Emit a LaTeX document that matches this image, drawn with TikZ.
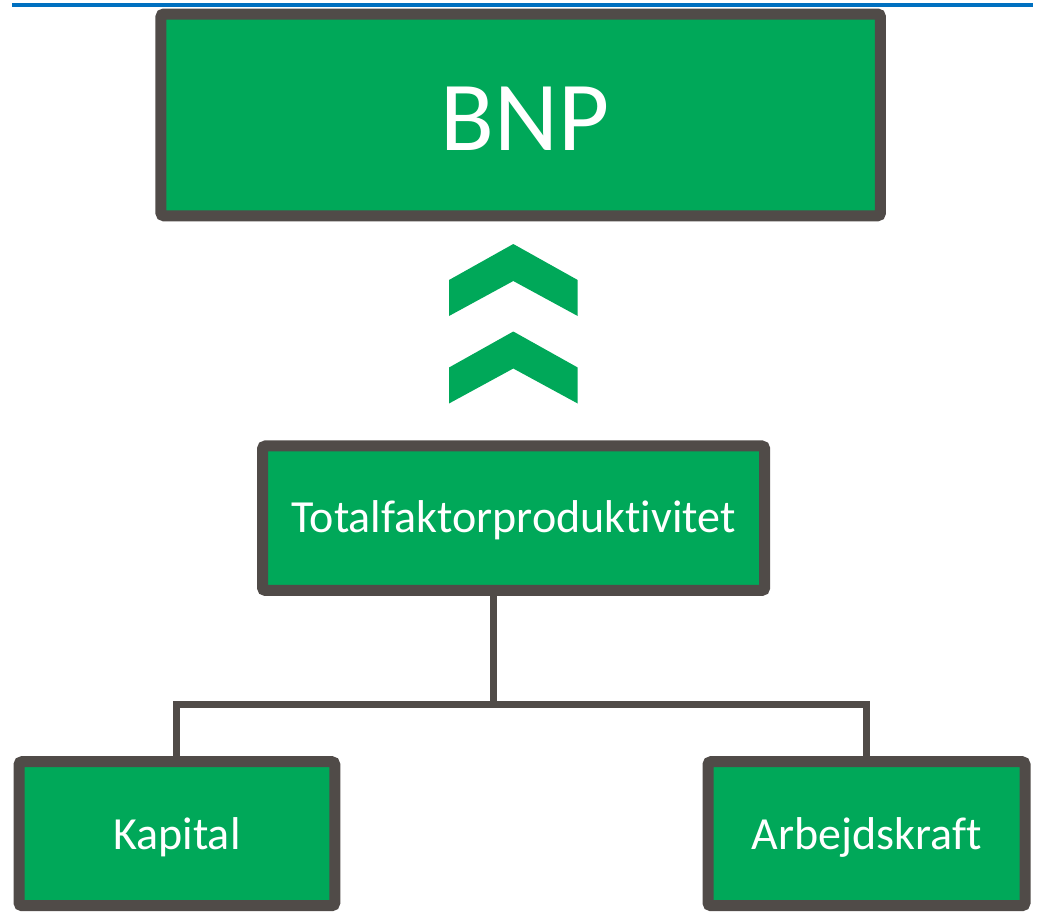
\documentclass[tikz,border=0pt]{standalone}
\usepackage{fontspec}
\setmainfont{Carlito}[Ligatures={NoCommon}]
\usepackage{xcolor}
\usepackage{tikz}
\usetikzlibrary{positioning,calc}

\definecolor{boxgreen}{RGB}{0,168,89}
\definecolor{boxgray}{RGB}{80,75,72}
\definecolor{topblue}{RGB}{0,112,192}

\begin{document}
\begin{tikzpicture}[x=1pt,y=-1pt,
  every node/.style={font=\fontsize{46}{46}\selectfont,text=white,
    text height=29pt,text depth=0pt},
  factorbox/.style={draw=boxgray,fill=boxgreen,line width=11pt,rounded corners=3pt,
    minimum height=144pt,inner sep=0pt},
  conn/.style={draw=boxgray,line width=7pt,line join=miter}]
  \useasboundingbox (0,0) rectangle (1038,911);
  % blue rule at the top
  \draw[topblue,line width=4pt] (12,5) -- (1032.6,5);
  % boxes
  \node[factorbox,minimum width=719.5pt,minimum height=201.8pt,text height=71pt,
    font=\fontsize{99}{99}\selectfont] (bnp) at (520.7,114.9) {\hspace{8pt}BNP};
  \node[factorbox,minimum width=502.2pt,minimum height=144.5pt] (tfp) at (513.6,518.2)
    {Totalfaktorproduktivitet};
  \node[factorbox,minimum width=315.7pt,text height=32pt] (kap) at (176.9,833.7) {Kapital};
  \node[factorbox,minimum width=317pt,text height=32pt] (arb) at (866.5,833.7) {Arbejdskraft};
  % chevrons
  \foreach \dy in {0,87.5}
    \fill[boxgreen] (449,280+\dy) -- (513.3,244+\dy) -- (577.7,280+\dy)
      -- (577.7,316+\dy) -- (513.3,281+\dy) -- (449,316+\dy) -- cycle;
  % connectors
  \coordinate (split) at (493,704.5);
  \draw[conn] (tfp.south -| split) -- (split);
  \draw[conn] (kap.north) |- (split) -| (arb.north);
\end{tikzpicture}
\end{document}
